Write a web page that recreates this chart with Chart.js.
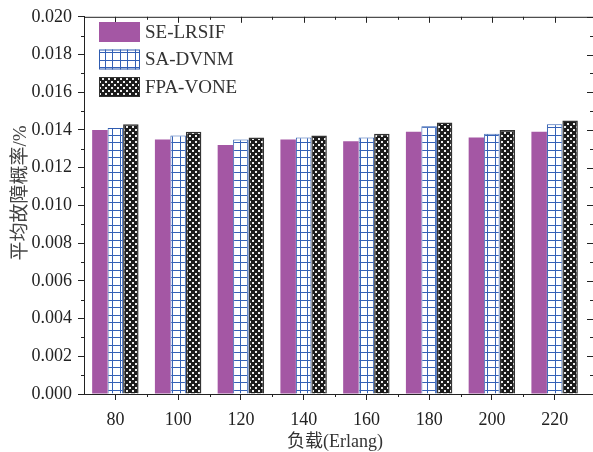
<!DOCTYPE html>
<html>
<head>
<meta charset="utf-8">
<script src="https://cdn.jsdelivr.net/npm/chart.js@4.4.1/dist/chart.umd.min.js"></script>
<style>
  html, body { margin: 0; padding: 0; background: #fff; }
  canvas { display: block; }
</style>
</head>
<body>
<canvas id="chart" width="593" height="452"></canvas>
<script>
// ---- data ----
const loads = ['80', '100', '120', '140', '160', '180', '200', '220'];
const seLrsif = [0.0140, 0.0135, 0.0132, 0.0135, 0.0134, 0.0139, 0.0136, 0.0139];
const saDvnm  = [0.0141, 0.0137, 0.0135, 0.0136, 0.0136, 0.0142, 0.0138, 0.0143];
const fpaVone = [0.0143, 0.0139, 0.0136, 0.0137, 0.0138, 0.0144, 0.0140, 0.0145];
const seriesNames = ['SE-LRSIF', 'SA-DVNM', 'FPA-VONE'];
const yTickValues = [0, 0.002, 0.004, 0.006, 0.008, 0.010, 0.012, 0.014, 0.016, 0.018, 0.020];
const xTitle = '负载(Erlang)';
const yTitle = '平均故障概率/%';

const SERIF = '"Liberation Serif", "Times New Roman", "Noto Sans CJK SC", serif';
const AXIS = '#222';

// ---- fill patterns ----
function gridPattern() {
    const c = document.createElement('canvas');
    c.width = 15; c.height = 15;
    const g = c.getContext('2d');
    g.fillStyle = '#fff';
    g.fillRect(0, 0, 15, 15);
    g.fillStyle = '#3461b6';
    g.fillRect(0, 0, 15, 1);
    g.fillRect(0, 7, 15, 1);
    g.fillRect(0, 0, 1, 15);
    g.fillRect(7, 0, 1, 15);
    return g.createPattern(c, 'repeat');
}

function dotPattern() {
    const c = document.createElement('canvas');
    c.width = 6; c.height = 6;
    const g = c.getContext('2d');
    g.fillStyle = '#1c1c1c';
    g.fillRect(0, 0, 6, 6);
    g.fillStyle = '#eeeeee';
    g.fillRect(0, 0, 2, 2);
    g.fillRect(3, 3, 2, 2);
    return g.createPattern(c, 'repeat');
}

// ---- frame, minor ticks, legend, titles ----
const extras = {
    id: 'extras',
    afterDraw(chart) {
        const { ctx, chartArea: a, scales: { x, y } } = chart;
        ctx.save();
        ctx.strokeStyle = AXIS;
        ctx.lineWidth = 1;
        const seg = (x1, y1, x2, y2) => {
            ctx.beginPath();
            ctx.moveTo(x1, y1);
            ctx.lineTo(x2, y2);
            ctx.stroke();
        };

        // top border
        seg(a.left, a.top + 0.5, 593, a.top + 0.5);

        // y ticks: minor on left, major+minor on right
        for (let i = 0; i < yTickValues.length; i++) {
            const py = Math.round(y.getPixelForValue(yTickValues[i])) + 0.5;
            seg(587, py, 593, py);
            if (i < yTickValues.length - 1) {
                const pm = Math.round(y.getPixelForValue((yTickValues[i] + yTickValues[i + 1]) / 2)) + 0.5;
                seg(a.left - 3, pm, a.left, pm);
                seg(590, pm, 593, pm);
            }
        }

        // x ticks: major on top (inward), minor at category boundaries top and bottom
        const step = (a.right - a.left) / loads.length;
        for (let i = 0; i < loads.length; i++) {
            const px = Math.round(x.getPixelForValue(i)) + 0.5;
            seg(px, a.top, px, a.top + 6);
            if (i > 0) {
                const pb = Math.round(a.left + i * step) + 0.5;
                seg(pb, a.top, pb, a.top + 3);
                seg(pb, a.bottom, pb, a.bottom + 3);
            }
        }

        // legend
        ctx.font = '19px ' + SERIF;
        ctx.textBaseline = 'middle';
        ctx.textAlign = 'left';
        chart.data.datasets.forEach((ds, i) => {
            const bx = 99, by = 22 + i * 27.5, bw = 41, bh = 20;
            ctx.fillStyle = ds.backgroundColor;
            ctx.fillRect(bx, by, bw, bh);
            if (ds.borderWidth) {
                ctx.strokeStyle = ds.borderColor;
                ctx.lineWidth = 1;
                ctx.strokeRect(bx + 0.5, by + 0.5, bw - 1, bh - 1);
            }
            ctx.fillStyle = '#333';
            ctx.fillText(ds.label, 145, by + bh / 2 + 1);
        });

        // axis titles
        ctx.fillStyle = '#333';
        ctx.textAlign = 'center';
        ctx.font = '18px ' + SERIF;
        ctx.fillText(xTitle, (a.left + a.right) / 2, 442);
        ctx.save();
        ctx.translate(21, 193);
        ctx.rotate(-Math.PI / 2);
        ctx.fillStyle = '#444';
        ctx.font = '19px ' + SERIF;
        ctx.fillText(yTitle, 0, 0);
        ctx.restore();

        ctx.restore();
    }
};

new Chart(document.getElementById('chart'), {
    type: 'bar',
    data: {
        labels: loads,
        datasets: [
            { label: seriesNames[0], data: seLrsif, backgroundColor: '#a457a4', borderWidth: 0 },
            { label: seriesNames[1], data: saDvnm, backgroundColor: gridPattern(), borderColor: '#2f5cb0', borderWidth: 1 },
            { label: seriesNames[2], data: fpaVone, backgroundColor: dotPattern(), borderColor: '#333', borderWidth: 1.5 }
        ]
    },
    options: {
        responsive: false,
        animation: false,
        devicePixelRatio: 1,
        layout: { padding: { top: 12, right: 7, left: 0, bottom: 0 } },
        datasets: {
            bar: { categoryPercentage: 0.74, barPercentage: 1.0 }
        },
        plugins: {
            legend: { display: false },
            tooltip: { enabled: false }
        },
        scales: {
            x: {
                afterFit: s => { s.height = 58; },
                grid: { offset: false, drawOnChartArea: false, tickLength: 6, color: AXIS },
                border: { display: true, color: AXIS },
                ticks: { font: { family: SERIF, size: 18 }, color: '#222', padding: 9, maxRotation: 0 }
            },
            y: {
                min: 0,
                max: 0.02,
                afterFit: s => { s.width = 84; },
                afterBuildTicks: s => { s.ticks = yTickValues.map(v => ({ value: v })); },
                grid: { drawOnChartArea: false, tickLength: 6, color: AXIS },
                border: { display: true, color: AXIS },
                ticks: {
                    font: { family: SERIF, size: 18 },
                    color: '#222',
                    padding: 6,
                    callback: v => Number(v).toFixed(3)
                }
            }
        }
    },
    plugins: [extras]
});
</script>
</body>
</html>
